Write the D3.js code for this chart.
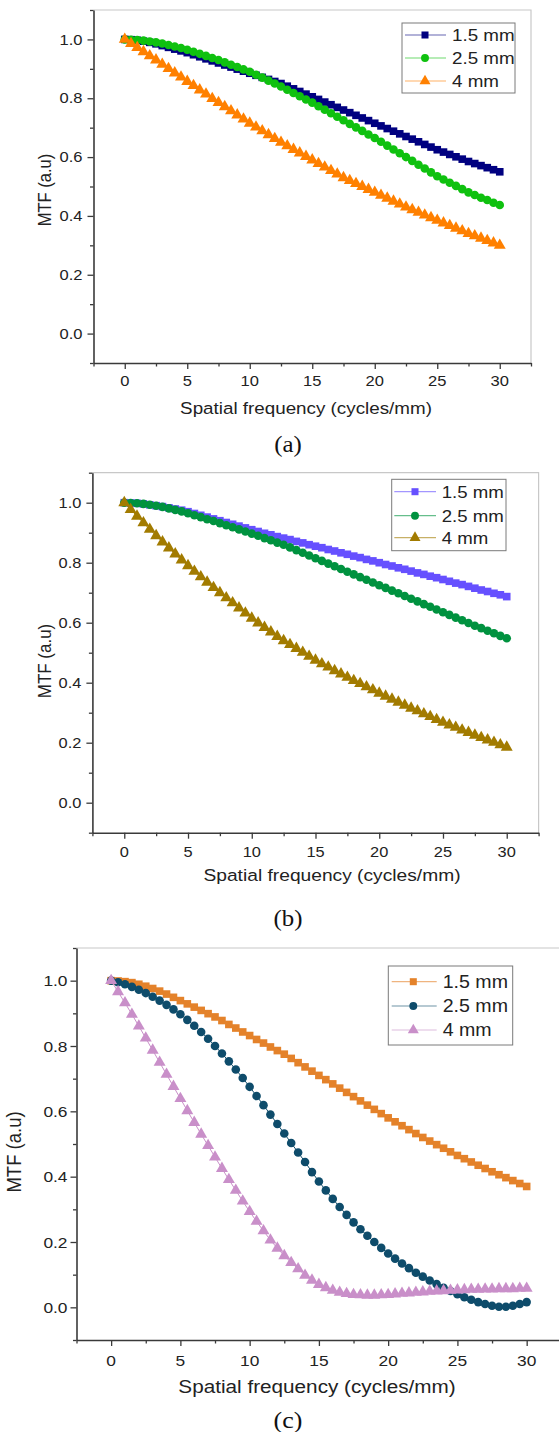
<!DOCTYPE html>
<html>
<head>
<meta charset="utf-8">
<script src="https://cdn.jsdelivr.net/npm/d3@7"></script>
<style>
    html, body { margin: 0; padding: 0; background: #fff; }
    svg { display: block; }
    .mtf text { font-family: "Liberation Sans", Arial, sans-serif; fill: #222; }
    .mtf .caption { font-family: "Liberation Serif", "Times New Roman", serif; fill: #111; }
</style>
</head>
<body>
<svg id="chart" width="559" height="1432"></svg>
<script>
// data (spatial frequency in cycles/mm, MTF in a.u.)
const freq = [0, 0.5, 1, 1.5, 2, 2.5, 3, 3.5, 4, 4.5, 5, 5.5, 6, 6.5, 7, 7.5, 8, 8.5, 9, 9.5,
    10, 10.5, 11, 11.5, 12, 12.5, 13, 13.5, 14, 14.5, 15, 15.5, 16, 16.5, 17, 17.5, 18, 18.5, 19, 19.5,
    20, 20.5, 21, 21.5, 22, 22.5, 23, 23.5, 24, 24.5, 25, 25.5, 26, 26.5, 27, 27.5, 28, 28.5, 29, 29.5, 30];

const xTicks = [0, 5, 10, 15, 20, 25, 30];
const yTicks = [0.0, 0.2, 0.4, 0.6, 0.8, 1.0];
const seriesNames = ["1.5 mm", "2.5 mm", "4 mm"];
const panelLabels = ["(a)", "(b)", "(c)"];
const xTitle = "Spatial frequency (cycles/mm)";
const yTitle = "MTF (a.u)";

// panel (a)
const mtfA15 = [1.000, 0.999, 0.997, 0.994, 0.990, 0.985, 0.979, 0.973, 0.967, 0.961, 0.955, 0.948, 0.941, 0.934, 0.927, 0.920,
    0.913, 0.906, 0.899, 0.892, 0.885, 0.878, 0.871, 0.864, 0.857, 0.850, 0.841, 0.832, 0.823, 0.814, 0.805,
    0.796, 0.787, 0.778, 0.769, 0.760, 0.751, 0.742, 0.733, 0.724, 0.715, 0.706, 0.697, 0.688, 0.679, 0.670,
    0.661, 0.652, 0.643, 0.634, 0.625, 0.617, 0.609, 0.601, 0.593, 0.585, 0.578, 0.571, 0.564, 0.557, 0.550];
const mtfA25 = [1.000, 0.999, 0.998, 0.996, 0.993, 0.990, 0.986, 0.981, 0.976, 0.971, 0.965, 0.958, 0.951, 0.944, 0.937, 0.930,
    0.922, 0.914, 0.906, 0.898, 0.890, 0.880, 0.870, 0.860, 0.850, 0.840, 0.829, 0.818, 0.807, 0.796, 0.785,
    0.773, 0.761, 0.749, 0.737, 0.725, 0.713, 0.701, 0.689, 0.677, 0.665, 0.652, 0.639, 0.626, 0.613, 0.600,
    0.587, 0.574, 0.561, 0.548, 0.535, 0.524, 0.513, 0.502, 0.491, 0.480, 0.471, 0.462, 0.454, 0.445, 0.437];
const mtfA4 = [1.000, 0.986, 0.972, 0.958, 0.944, 0.930, 0.915, 0.901, 0.886, 0.872, 0.857, 0.843, 0.828, 0.814, 0.799, 0.785,
    0.771, 0.757, 0.743, 0.729, 0.715, 0.702, 0.689, 0.676, 0.663, 0.650, 0.638, 0.626, 0.614, 0.602, 0.590,
    0.578, 0.566, 0.554, 0.542, 0.530, 0.520, 0.510, 0.500, 0.490, 0.480, 0.470, 0.460, 0.450, 0.440, 0.430,
    0.421, 0.412, 0.403, 0.394, 0.385, 0.376, 0.367, 0.358, 0.349, 0.340, 0.332, 0.324, 0.316, 0.308, 0.300];

// panel (b)
const mtfB15 = [1.000, 0.999, 0.998, 0.996, 0.993, 0.990, 0.987, 0.983, 0.979, 0.975, 0.970, 0.964, 0.958, 0.952, 0.946, 0.940,
    0.934, 0.928, 0.922, 0.916, 0.910, 0.904, 0.898, 0.893, 0.887, 0.882, 0.877, 0.871, 0.866, 0.860, 0.855,
    0.850, 0.844, 0.839, 0.833, 0.828, 0.822, 0.817, 0.811, 0.806, 0.800, 0.794, 0.789, 0.783, 0.778, 0.772,
    0.766, 0.761, 0.755, 0.750, 0.744, 0.738, 0.732, 0.727, 0.721, 0.715, 0.709, 0.704, 0.698, 0.693, 0.687];
const mtfB25 = [1.000, 0.999, 0.998, 0.996, 0.993, 0.990, 0.986, 0.981, 0.976, 0.971, 0.965, 0.958, 0.952, 0.945, 0.939, 0.932,
    0.925, 0.918, 0.911, 0.904, 0.897, 0.890, 0.882, 0.875, 0.867, 0.860, 0.851, 0.842, 0.833, 0.824, 0.815,
    0.806, 0.797, 0.788, 0.779, 0.770, 0.761, 0.752, 0.743, 0.734, 0.725, 0.716, 0.707, 0.698, 0.689, 0.680,
    0.671, 0.662, 0.653, 0.644, 0.635, 0.626, 0.617, 0.608, 0.599, 0.590, 0.582, 0.573, 0.565, 0.556, 0.548];
const mtfB4 = [1.000, 0.977, 0.955, 0.933, 0.911, 0.890, 0.869, 0.849, 0.829, 0.809, 0.790, 0.771, 0.753, 0.735, 0.717, 0.700,
    0.683, 0.666, 0.649, 0.632, 0.615, 0.599, 0.584, 0.569, 0.554, 0.540, 0.527, 0.514, 0.501, 0.488, 0.475,
    0.463, 0.452, 0.440, 0.429, 0.418, 0.407, 0.397, 0.386, 0.376, 0.365, 0.355, 0.345, 0.335, 0.325, 0.315,
    0.306, 0.296, 0.287, 0.277, 0.268, 0.259, 0.251, 0.242, 0.234, 0.225, 0.217, 0.209, 0.201, 0.193, 0.185];

// panel (c)
const mtfC15 = [1.000, 0.999, 0.997, 0.994, 0.989, 0.983, 0.976, 0.968, 0.959, 0.949, 0.939, 0.929, 0.919, 0.909, 0.899, 0.889,
    0.878, 0.866, 0.855, 0.843, 0.832, 0.820, 0.809, 0.797, 0.786, 0.775, 0.762, 0.749, 0.736, 0.723, 0.710,
    0.697, 0.684, 0.671, 0.658, 0.645, 0.632, 0.619, 0.606, 0.593, 0.580, 0.568, 0.556, 0.544, 0.532, 0.520,
    0.509, 0.498, 0.487, 0.476, 0.465, 0.455, 0.445, 0.435, 0.425, 0.415, 0.406, 0.397, 0.388, 0.379, 0.370];
const mtfC25 = [1.000, 0.995, 0.989, 0.981, 0.972, 0.962, 0.951, 0.939, 0.926, 0.912, 0.897, 0.880, 0.862, 0.843, 0.822, 0.800,
    0.777, 0.753, 0.728, 0.702, 0.675, 0.647, 0.619, 0.590, 0.561, 0.532, 0.503, 0.474, 0.445, 0.414, 0.385,
    0.358, 0.332, 0.307, 0.283, 0.260, 0.239, 0.219, 0.200, 0.182, 0.165, 0.149, 0.134, 0.120, 0.106, 0.094,
    0.082, 0.071, 0.060, 0.050, 0.040, 0.031, 0.023, 0.016, 0.010, 0.005, 0.002, 0.002, 0.005, 0.010, 0.016];
const mtfC4 = [1.000, 0.966, 0.932, 0.897, 0.861, 0.824, 0.787, 0.750, 0.713, 0.676, 0.639, 0.602, 0.566, 0.530, 0.495, 0.460,
    0.425, 0.391, 0.358, 0.325, 0.293, 0.263, 0.234, 0.206, 0.181, 0.158, 0.137, 0.118, 0.098, 0.083, 0.070,
    0.060, 0.052, 0.046, 0.042, 0.039, 0.038, 0.037, 0.037, 0.038, 0.039, 0.041, 0.043, 0.044, 0.046, 0.047,
    0.049, 0.050, 0.051, 0.052, 0.053, 0.054, 0.055, 0.055, 0.056, 0.056, 0.057, 0.057, 0.057, 0.058, 0.058];

// ----- LAYOUT ---------------------------------------------------------
const SYMBOLS = [d3.symbolSquare, d3.symbolCircle, d3.symbolTriangle];
const SYMBOL_SIZE = [58, 58, 62];

const panels = [
    {
        series: [mtfA15, mtfA25, mtfA4],
        colors: ["#000080", "#0fc10f", "#ff8000"],
        left: 93.5, right: 531, top: 10, bottom: 363,
        stretch: 1.14, tickFont: 14.5, titleFont: 16.5, legendFont: 16.5, captionFont: 23,
        tickLabelDy: 23, xTitleX: 306, xTitleDy: 50.5,
        yTitleX: 50.5, yTitleY: 190, yLabelGap: 11,
        captionY: 452,
        legend: { x0: 402, x1: 515, y0: 23, y1: 93, rows: [35, 58, 81], line: [405, 446], marker: 425, text: 452 }
    },
    {
        series: [mtfB15, mtfB25, mtfB4],
        colors: ["#6650ff", "#00923f", "#a27b00"],
        left: 92.4, right: 538.6, top: 472.7, bottom: 832.7,
        stretch: 1.13, tickFont: 14.5, titleFont: 17, legendFont: 16.5, captionFont: 23,
        tickLabelDy: 24, xTitleX: 332, xTitleDy: 48.5,
        yTitleX: 50.5, yTitleY: 661, yLabelGap: 11,
        captionY: 926,
        legend: { x0: 391.7, x1: 506, y0: 479.3, y1: 550.7, rows: [491.7, 515.7, 537.7], line: [394.3, 436], marker: 415, text: 441.7 }
    },
    {
        series: [mtfC15, mtfC25, mtfC4],
        colors: ["#e4822a", "#0e4c6b", "#c98fc9"],
        left: 76.5, right: 561.3, top: 948, bottom: 1340,
        stretch: 1.12, tickFont: 15.5, titleFont: 18.5, legendFont: 17.5, captionFont: 24,
        tickLabelDy: 26, xTitleX: 317, xTitleDy: 53.3,
        yTitleX: 21, yTitleY: 1152, yLabelGap: 9,
        captionY: 1428,
        legend: { x0: 388.3, x1: 512.7, y0: 966, y1: 1045, rows: [981.7, 1006, 1030], line: [391.7, 436.7], marker: 413.3, text: 442.7 }
    }
];

// ----- DRAWING --------------------------------------------------------
function _text( parent, x, y, str, stretch, cls, size, anchor, rotate )
{
    // reference text is horizontally wider than the plain font, so scale it
    let g = parent.append("g")
        .attr("transform", "translate(" + x + "," + y + ") scale(" + stretch + ",1)" + ( rotate ? " rotate(-90)" : "" ));

    return g.append("text")
        .attr("class", cls || null)
        .attr("font-size", size)
        .attr("text-anchor", anchor || "middle")
        .text( str );
}

function _drawPanel( svg, p, idx )
{
    const x = d3.scaleLinear().domain([-2.5, 32.5]).range([p.left, p.right]);
    const y = d3.scaleLinear().domain([-0.1, 1.1]).range([p.bottom, p.top]);

    let g = svg.append("g").classed("mtf", true);

    // light frame on top and right
    g.append("path")
        .attr("d", "M" + p.left + "," + p.top + "H" + p.right + "V" + p.bottom)
        .attr("fill", "none")
        .attr("stroke", "#c8c8c8")
        .attr("stroke-width", 1.2);

    // minor ticks
    const xMinor = xTicks.map(v => v - 2.5).concat([32.5]);
    const yMinor = yTicks.map(v => v - 0.1).concat([1.1]);

    g.append("g")
        .attr("transform", "translate(0," + p.bottom + ")")
        .call(d3.axisBottom(x).tickValues(xTicks).tickSize(6).tickSizeOuter(0).tickFormat(""));
    g.append("g")
        .attr("transform", "translate(0," + p.bottom + ")")
        .call(d3.axisBottom(x).tickValues(xMinor).tickSize(3.5).tickSizeOuter(0).tickFormat(""))
        .select(".domain").remove();

    g.append("g")
        .attr("transform", "translate(" + p.left + ",0)")
        .call(d3.axisLeft(y).tickValues(yTicks).tickSize(6).tickSizeOuter(0).tickFormat(""));
    g.append("g")
        .attr("transform", "translate(" + p.left + ",0)")
        .call(d3.axisLeft(y).tickValues(yMinor).tickSize(3.5).tickSizeOuter(0).tickFormat(""))
        .select(".domain").remove();

    g.selectAll(".domain").attr("stroke", "#3a3a3a").attr("stroke-width", 1.6);
    g.selectAll(".tick line").attr("stroke", "#3a3a3a").attr("stroke-width", 1.3);

    // tick labels
    xTicks.forEach(v => {
        _text( g, x(v), p.bottom + p.tickLabelDy, String(v), p.stretch, null, p.tickFont, "middle" );
    });
    yTicks.forEach(v => {
        _text( g, p.left - p.yLabelGap, y(v), d3.format(".1f")(v), p.stretch, null, p.tickFont, "end" )
            .attr("dy", "0.36em");
    });

    // axis titles & caption
    _text( g, p.xTitleX, p.bottom + p.xTitleDy, xTitle, p.stretch, null, p.titleFont, "middle" );
    _text( g, p.yTitleX, p.yTitleY, yTitle, p.stretch, null, p.titleFont, "middle", true );
    _text( g, 288, p.captionY, panelLabels[idx], 1.08, "caption", p.captionFont, "middle" );

    // series: thin line + dense markers
    const line = d3.line()
        .x((d, i) => x(freq[i]))
        .y(d => y(d));

    p.series.forEach((values, s) => {
        let sg = g.append("g");

        sg.append("path")
            .datum(values)
            .attr("d", line)
            .attr("fill", "none")
            .attr("stroke", p.colors[s])
            .attr("stroke-width", 1);

        sg.selectAll("path.marker")
            .data(values)
            .enter()
                .append("path")
                .classed("marker", true)
                .attr("transform", (d, i) => "translate(" + x(freq[i]) + "," + y(d) + ")")
                .attr("d", d3.symbol().type(SYMBOLS[s]).size(SYMBOL_SIZE[s]))
                .attr("fill", p.colors[s]);
    });

    // legend
    const L = p.legend;
    let legend = g.append("g");

    legend.append("rect")
        .attr("x", L.x0)
        .attr("y", L.y0)
        .attr("width", L.x1 - L.x0)
        .attr("height", L.y1 - L.y0)
        .attr("fill", "#fff")
        .attr("stroke", "#7a7a7a")
        .attr("stroke-width", 1);

    seriesNames.forEach((name, s) => {
        const ry = L.rows[s];

        legend.append("line")
            .attr("x1", L.line[0])
            .attr("x2", L.line[1])
            .attr("y1", ry)
            .attr("y2", ry)
            .attr("stroke", p.colors[s])
            .attr("stroke-opacity", 0.6)
            .attr("stroke-width", 1.2);

        legend.append("path")
            .attr("transform", "translate(" + L.marker + "," + ry + ")")
            .attr("d", d3.symbol().type(SYMBOLS[s]).size(SYMBOL_SIZE[s] * 0.85))
            .attr("fill", p.colors[s]);

        _text( legend, L.text, ry, name, p.stretch, null, p.legendFont, "start" )
            .attr("dy", "0.36em");
    });
}

let svg = d3.select("#chart");

panels.forEach((p, i) => {
    _drawPanel( svg, p, i );
});
</script>
</body>
</html>
